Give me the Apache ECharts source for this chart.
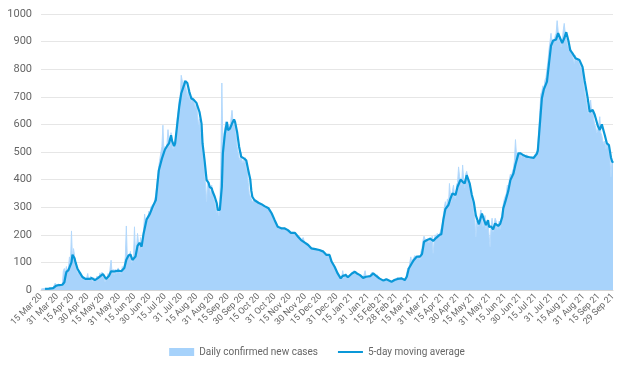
<!DOCTYPE html>
<html><head><meta charset="utf-8">
<script src="https://cdn.jsdelivr.net/npm/echarts@6/dist/echarts.min.js"></script>
<style>html,body{margin:0;padding:0;background:#fff}#c{width:634px;height:366px}</style>
</head><body><div id="c"></div>
<script>
// Day index 0 = 15 Mar 2020, last index 563 = 29 Sep 2021
const firstDay = [2020, 2, 15];
const dayCount = 564;
const monthNames = ['Jan','Feb','Mar','Apr','May','Jun','Jul','Aug','Sep','Oct','Nov','Dec'];
const seriesNames = ['Daily confirmed new cases', '5-day moving average'];
const yMin = 0, yMax = 1000, yStep = 100;

// [day index, daily confirmed new cases]
const dailyCases = [
[0,3],[2,5],[4,6],[6,4],[8,8],[10,6],[12,10],[14,25],[15,14],[17,22],[19,17],[21,20],[22,70],[23,78],[24,60],[25,85],[26,65],[27,80],[28,120],[29,100],[30,214],[31,110],[32,150],[33,125],[34,90],[35,80],[36,60],[37,70],[38,55],[39,65],[40,40],[42,50],[43,35],[45,45],[46,60],[47,35],[49,50],[51,30],[52,45],[54,35],[55,50],[57,45],[58,62],[59,50],[60,65],[61,55],[62,45],[63,30],[65,45],[66,60],[67,40],[68,80],[69,108],[70,60],[71,75],[72,55],[73,75],[74,60],[76,80],[77,65],[78,70],[79,60],[80,85],[81,75],[82,90],[83,120],[84,232],[85,110],[86,130],[87,110],[88,140],[89,100],[90,95],[91,110],[92,229],[93,130],[94,150],[95,205],[96,170],[97,140],[98,190],[99,150],[100,180],[101,220],[102,275],[103,240],[104,260],[105,250],[106,285],[107,270],[108,300],[110,310],[111,290],[112,330],[113,344],[114,350],[115,420],[116,450],[117,476],[118,470],[119,520],[120,597],[121,500],[122,520],[123,510],[124,530],[125,581],[126,540],[127,520],[128,570],[129,540],[130,510],[131,520],[132,540],[133,560],[134,620],[135,650],[136,690],[137,700],[138,778],[139,772],[140,740],[141,760],[142,750],[143,745],[144,700],[145,730],[146,690],[147,700],[148,680],[149,700],[150,690],[151,685],[152,660],[153,680],[154,640],[155,600],[156,620],[157,570],[158,560],[159,500],[160,480],[161,420],[162,380],[163,320],[164,400],[165,380],[166,370],[167,340],[168,380],[169,350],[170,330],[171,320],[172,300],[173,280],[174,290],[175,270],[176,320],[177,450],[178,750],[179,520],[180,560],[181,590],[182,610],[183,580],[184,590],[185,600],[186,580],[187,620],[188,651],[189,610],[190,600],[191,590],[192,560],[193,520],[194,500],[195,480],[196,470],[197,500],[198,460],[199,470],[200,460],[201,480],[202,440],[203,430],[204,390],[205,350],[206,340],[207,330],[208,320],
[210,325],[212,318],[215,312],[218,308],[221,300],[224,295],[226,285],[228,265],[230,250],[232,232],[234,222],[236,225],[238,220],[240,225],[242,218],[244,215],[246,205],[248,210],[250,205],[252,198],[254,195],[256,180],[258,190],[260,168],[262,170],[264,160],[266,152],[268,150],[270,150],[272,146],[274,145],[276,142],[278,140],[280,130],[282,125],[284,125],[285,110],[287,95],[289,85],[291,65],[293,55],[295,40],[296,48],[297,70],[298,45],[300,60],[302,45],[304,55],[306,62],[308,70],[309,65],[311,58],[313,55],[315,50],[317,42],[319,70],[320,48],[322,45],[324,55],[326,65],[327,68],[329,50],[331,55],[333,40],[335,35],[337,30],[339,40],[341,35],[343,32],[345,28],[347,38],[349,40],[351,45],[353,40],[355,45],[357,35],[359,40],[360,60],[361,80],[362,70],[363,100],[364,120],[365,95],[366,110],[367,105],[368,125],[369,130],[370,115],[371,120],[372,125],[373,110],[374,140],[375,150],[376,180],[377,195],[378,185],[379,175],[380,185],[381,180],[382,170],[383,190],[384,175],[385,195],[386,133],[387,180],[388,200],[389,190],[390,205],[391,195],[392,200],[393,210],[394,205],[395,240],[396,270],[397,300],[398,320],[399,290],[400,330],[401,300],[402,386],[403,340],[404,320],[405,360],[406,380],[407,340],[408,330],[409,380],[410,390],[411,446],[412,410],[413,400],[414,380],[415,453],[416,400],[417,370],[418,420],[419,430],[420,410],[421,390],[422,370],[423,350],[424,330],[425,310],[426,280],[427,260],[428,193],[429,250],[430,230],[431,240],[432,270],[433,290],[434,260],[435,230],[436,250],[437,270],[438,220],[439,250],[440,240],[441,200],[442,157],[443,230],[444,260],[445,210],[446,240],[447,260],[448,250],[449,220],[450,235],[451,250],[452,220],[453,260],[454,280],[455,310],[456,330],[457,340],[458,350],[459,380],[460,370],[461,400],[462,420],[463,410],[464,430],[465,440],[466,470],[467,545],[468,490],[469,500],[470,500],[471,490],[472,500],[473,480],[474,490],[475,485],[476,480],[478,490],[480,475],[482,485],[484,475],[486,490],[488,500],[489,520],[490,580],[491,650],[492,710],[493,720],[494,740],[495,730],[496,760],[497,770],[498,800],[499,830],[500,870],[501,900],[502,930],[503,880],[504,910],[505,900],[506,920],[507,930],[508,976],[509,940],[510,900],[511,920],[512,880],[513,900],[514,940],[515,966],[516,930],[517,910],[518,890],[519,880],[520,870],[521,860],[522,870],[523,850],[524,845],[525,821],[526,850],[527,830],[528,840],[529,830],[530,820],[531,810],[532,800],[533,780],[534,750],[535,720],[536,700],[537,680],[538,650],[539,640],[540,660],[541,688],[542,640],[543,650],[544,620],[545,600],[546,590],[547,570],[548,580],[549,600],[550,628],[551,570],[552,560],[553,540],[554,530],[555,540],[556,510],[557,530],[558,520],[559,500],[560,480],[561,410],[562,470],[563,460]
];

// [day index, 5-day moving average]
const movingAverage = [
[4,4],[8,5],[12,7],[15,16],[18,18],[21,19],[23,28],[24,48],[25,65],[27,72],[28,76],[30,100],[31,128],[32,130],[33,115],[34,100],[36,76],[38,64],[41,46],[44,40],[48,40],[50,43],[53,36],[56,43],[59,52],[61,58],[64,40],[67,52],[69,68],[72,67],[76,70],[79,68],[82,80],[84,110],[86,124],[87,121],[88,129],[90,109],[91,103],[93,121],[95,160],[97,171],[98,175],[99,157],[101,205],[104,256],[107,275],[110,302],[113,326],[114,362],[116,434],[119,476],[122,509],[124,521],[126,531],[128,561],[129,540],[131,521],[132,531],[134,597],[136,663],[138,712],[141,745],[142,757],[144,750],[146,718],[148,694],[150,690],[153,678],[154,672],[156,645],[158,603],[159,531],[161,470],[163,398],[165,388],[166,374],[168,368],[169,356],[171,338],[173,314],[174,290],[176,290],[178,374],[179,495],[181,567],[183,609],[184,579],[186,585],[188,603],[190,618],[191,609],[193,573],[195,519],[197,483],[200,476],[202,470],[204,434],[206,400],[207,360],[208,338],[210,326],[214,316],[217,311],[220,304],[224,296],[227,278],[230,253],[233,229],[237,223],[240,223],[243,217],[246,207],[250,207],[253,193],[256,181],[260,171],[263,163],[266,151],[270,148],[274,145],[278,139],[281,127],[284,127],[286,103],[289,84],[292,60],[295,42],[297,51],[300,54],[302,46],[306,60],[309,66],[311,60],[314,54],[317,44],[320,48],[324,50],[327,60],[329,54],[333,42],[337,34],[340,39],[345,30],[348,36],[351,40],[355,42],[358,36],[360,48],[362,78],[365,97],[367,109],[370,121],[373,121],[375,130],[377,175],[380,181],[383,186],[386,178],[389,189],[392,199],[394,202],[396,254],[398,293],[401,308],[403,331],[405,350],[406,355],[408,344],[410,374],[413,400],[415,392],[417,386],[419,416],[420,414],[422,385],[424,345],[426,318],[428,270],[431,238],[434,277],[436,254],[438,235],[440,253],[441,229],[443,230],[445,220],[447,241],[448,245],[450,232],[452,240],[454,265],[455,296],[457,320],[460,360],[462,398],[465,422],[467,455],[470,495],[472,495],[475,488],[478,483],[481,481],[485,479],[488,493],[489,505],[491,600],[493,695],[495,728],[498,755],[500,821],[502,885],[504,903],[507,908],[509,931],[511,912],[513,895],[515,912],[517,934],[519,905],[521,868],[523,858],[526,840],[530,833],[533,808],[535,760],[538,697],[540,646],[543,652],[545,635],[548,595],[550,580],[552,600],[555,560],[557,531],[559,525],[561,480],[562,467],[563,461]
];

function dateOf(i) { return new Date(Date.UTC(firstDay[0], firstDay[1], firstDay[2] + i)); }
const categories = [];
for (let i = 0; i < dayCount; i++) {
  const d = dateOf(i);
  categories.push(d.getUTCDate() + ' ' + monthNames[d.getUTCMonth()] + ' ' + String(d.getUTCFullYear()).slice(2));
}
function showLabel(i) {
  if (i === dayCount - 1) return true;
  const d = dateOf(i), n = dateOf(i + 1);
  return d.getUTCDate() === 15 || n.getUTCMonth() !== d.getUTCMonth();
}

const chart = echarts.init(document.getElementById('c'), null, {renderer: 'canvas'});
chart.setOption({
  animation: false,
  textStyle: {fontFamily: 'Roboto, sans-serif'},
  grid: {left: 41, right: 21, top: 14, bottom: 76},
  legend: {
    top: 342, left: 'center', itemGap: 20, itemWidth: 25, itemHeight: 8,
    textStyle: {color: '#666', fontSize: 10, fontFamily: 'Roboto, sans-serif'},
    data: [
      {name: seriesNames[0], icon: 'rect', itemStyle: {color: '#a6d2fb'}},
      {name: seriesNames[1], icon: 'path://M0,0H25V2H0Z', itemStyle: {color: '#0a98d8'}}
    ]
  },
  xAxis: {
    type: 'category', data: categories, boundaryGap: false,
    axisLine: {lineStyle: {color: '#d6d6d6'}},
    axisTick: {show: false},
    axisLabel: {interval: (i) => showLabel(i), rotate: 45, fontSize: 9, color: '#666', margin: 5}
  },
  yAxis: {
    type: 'value', min: yMin, max: yMax, interval: yStep,
    axisLine: {show: false}, axisTick: {show: false},
    axisLabel: {fontSize: 11, color: '#666', margin: 9, formatter: (v) => String(v)},
    splitLine: {lineStyle: {color: '#e6e6e6'}}
  },
  series: [
    {
      name: seriesNames[0], type: 'line', data: dailyCases, showSymbol: false, symbol: 'none',
      lineStyle: {width: 1, color: '#b4d9fc'}, itemStyle: {color: '#a6d2fb'},
      areaStyle: {color: '#a8d3fb', opacity: 1}, z: 1
    },
    {
      name: seriesNames[1], type: 'line', data: movingAverage, showSymbol: false, symbol: 'none',
      lineStyle: {width: 2.2, color: '#0a98d8'}, itemStyle: {color: '#0a98d8'}, z: 3
    }
  ]
});
</script></body></html>
